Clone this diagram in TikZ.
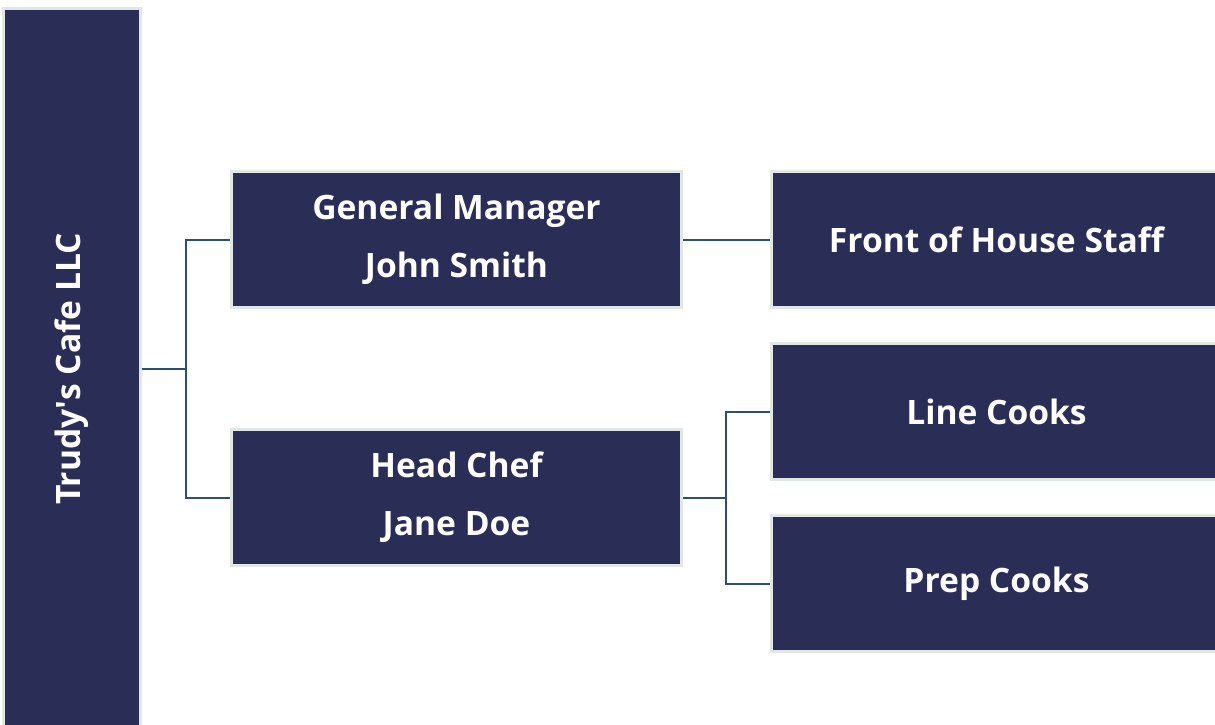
\documentclass[tikz,border=0pt]{standalone}
\usepackage{fontspec}
\setmainfont{Open Sans}
\usetikzlibrary{positioning}

\definecolor{boxfill}{HTML}{2A2D56}
\definecolor{boxedge}{HTML}{E1E6E6}
\definecolor{linkcol}{HTML}{2E5068}

\tikzset{
  orgbox/.style={rectangle, fill=boxfill, draw=boxedge, line width=3pt,
    minimum width=450pt, minimum height=136pt, inner sep=0pt,
    text=white, align=center, font=\fontsize{33.6}{58}\selectfont\bfseries},
  link/.style={draw=linkcol, line width=2pt}
}

\begin{document}
\begin{tikzpicture}[x=1pt,y=-1pt]
    \useasboundingbox (0,0) rectangle (1215,725);
    \clip (0,0) rectangle (1215,725);

    % Company bar on the left
    \node[orgbox, minimum width=721pt, minimum height=137pt, rotate=90] (cafe) at (72,369) {Trudy\textquotesingle s Cafe LLC};

    % Managers
    \node[orgbox] (gm) at (456.5,239.5) {General Manager\\John Smith};
    \node[orgbox] (chef) at (456.5,497.5) {Head Chef\\Jane Doe};

    % Staff
    \node[orgbox] (foh) at (996.5,239.5) {Front of House Staff};
    \node[orgbox] (line) at (996.5,411.5) {Line Cooks};
    \node[orgbox] (prep) at (996.5,583.5) {Prep Cooks};

    % Connectors
    \coordinate (split1) at (186,369);
    \coordinate (split2) at (726,497.5);
    \draw[link] (cafe.south) -- (split1);
    \draw[link] (gm.west) -| (split1) |- (chef.west);
    \draw[link] (gm.east) -- (foh.west);
    \draw[link] (chef.east) -- (split2);
    \draw[link] (line.west) -| (split2) |- (prep.west);

\end{tikzpicture}
\end{document}
